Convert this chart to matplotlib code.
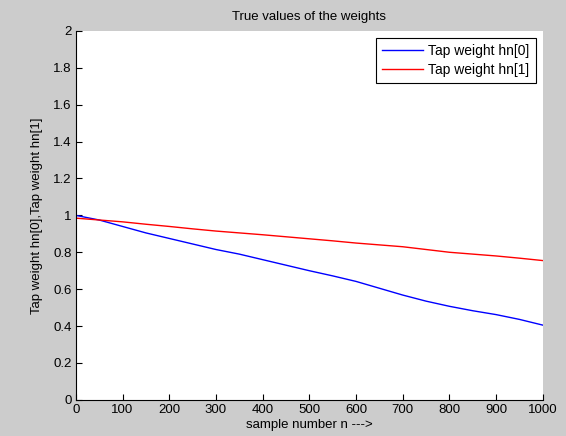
import numpy as np
import matplotlib.pyplot as plt

plt.rcParams['font.family'] = ['Liberation Sans', 'DejaVu Sans']

# values
n = [0, 50, 100, 150, 200, 250, 300, 350, 400, 450, 500, 550, 600, 650, 700, 750, 800, 850, 900, 950, 1000]
hn0 = [1.0, 0.975, 0.94, 0.905, 0.875, 0.845, 0.815, 0.79, 0.76, 0.73, 0.70, 0.672, 0.642, 0.605, 0.568, 0.535, 0.507, 0.483, 0.462, 0.436, 0.405]
hn1 = [0.985, 0.975, 0.965, 0.952, 0.94, 0.927, 0.915, 0.905, 0.895, 0.884, 0.873, 0.862, 0.85, 0.84, 0.83, 0.815, 0.80, 0.79, 0.78, 0.768, 0.755]

fig = plt.figure(figsize=(5.66, 4.36), dpi=100, facecolor='#cccccc')
ax = fig.add_axes([0.134, 0.083, 0.825, 0.846])

ax.plot(n, hn0, color='blue', lw=1, label='Tap weight hn[0]')
ax.plot(n, hn1, color='red', lw=1, label='Tap weight hn[1]')

ax.set_xlim(0, 1000)
ax.set_ylim(0, 2)
ax.set_xticks(np.arange(0, 1001, 100))
ax.set_yticks(np.arange(0, 2.01, 0.2))
ax.set_yticklabels(['0', '0.2', '0.4', '0.6', '0.8', '1', '1.2', '1.4', '1.6', '1.8', '2'])
ax.tick_params(direction='in', length=4, labelsize=9.5, colors='black', pad=3)
ax.spines['top'].set_visible(False)
ax.spines['right'].set_visible(False)

ax.set_title('True values of the weights', fontsize=9.5, pad=8)
ax.set_xlabel('sample number n --->', fontsize=9.5, labelpad=2)
ax.set_ylabel('Tap weight hn[0],Tap weight hn[1]', fontsize=9.5, labelpad=7)

leg = ax.legend(loc='upper right', fontsize=10, fancybox=False, edgecolor='black',
                framealpha=1, handlelength=3, handletextpad=0.35,
                borderpad=0.45, labelspacing=0.35, borderaxespad=0,
                bbox_to_anchor=(0.985, 0.981))
leg.get_frame().set_linewidth(0.8)

fig.savefig('out.png', dpi=100, facecolor=fig.get_facecolor())
